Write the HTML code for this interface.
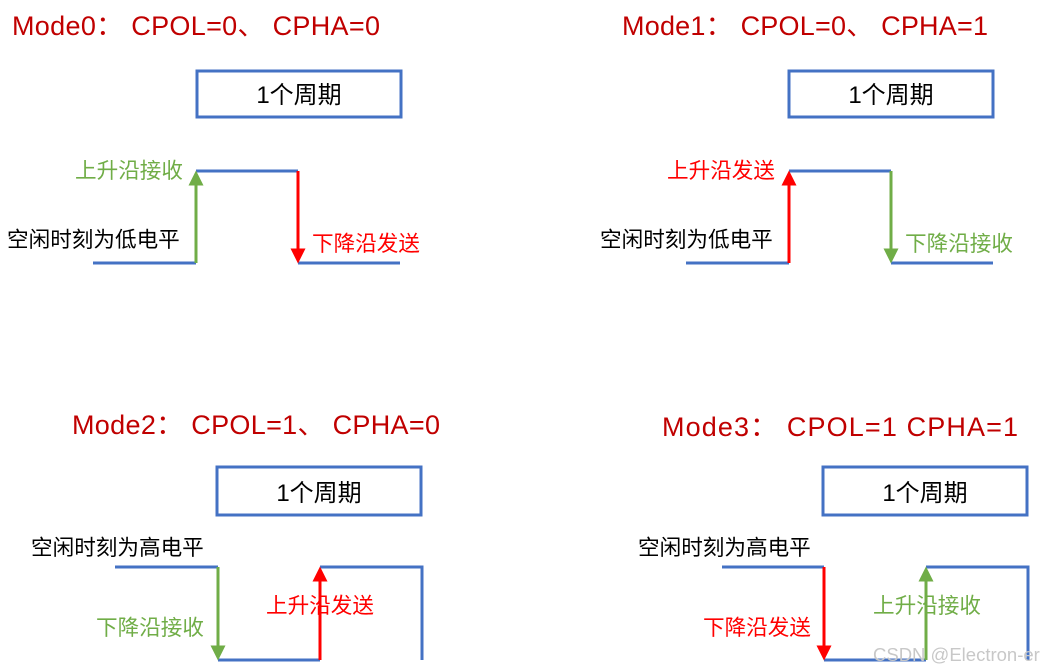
<!DOCTYPE html>
<html><head><meta charset="utf-8"><style>
html,body{margin:0;padding:0;background:#fff;}
svg{display:block;}
text{font-family:"Liberation Sans","Noto Sans CJK SC",sans-serif;}
.t{fill:#c00000;font-size:27px;}
.b{fill:#000;font-size:24px;}
.l{font-size:21.6px;}
.g{fill:#70ad47;}
.r{fill:#ff0000;}
.k{fill:#000;}
</style></head><body>
<svg width="1043" height="672" viewBox="0 0 1043 672" xmlns="http://www.w3.org/2000/svg">
<defs>
<marker id="ag" markerWidth="5" markerHeight="5" refX="2.5" refY="2.5" orient="auto"><path d="M0,0 L5,2.5 L0,5 z" fill="#70ad47"/></marker>
<marker id="ar" markerWidth="5" markerHeight="5" refX="2.5" refY="2.5" orient="auto"><path d="M0,0 L5,2.5 L0,5 z" fill="#ff0000"/></marker>
</defs>
<g fill="none" stroke="#4472c4" stroke-width="3">
<rect x="197" y="71" width="204" height="46"/>
<rect x="789" y="71" width="204" height="46"/>
<rect x="217" y="467" width="204" height="48"/>
<rect x="823" y="467" width="204" height="48"/>
<polyline points="93,263 196,263"/>
<polyline points="196,171 298,171"/>
<polyline points="298,263 400,263"/>
<polyline points="686,263 789,263"/>
<polyline points="789,171 891,171"/>
<polyline points="891,263 993,263"/>
<polyline points="115,567 218,567"/>
<polyline points="218,660 320,660"/>
<polyline points="320,567 422,567 422,660"/>
<polyline points="722,567 824,567"/>
<polyline points="824,660 926,660"/>
<polyline points="926,567 1028,567 1028,660"/>
</g>
<g stroke-width="3">
<line x1="196" y1="263" x2="196" y2="178" stroke="#70ad47" marker-end="url(#ag)"/>
<line x1="298" y1="171" x2="298" y2="256" stroke="#ff0000" marker-end="url(#ar)"/>
<line x1="789" y1="263" x2="789" y2="178" stroke="#ff0000" marker-end="url(#ar)"/>
<line x1="891" y1="171" x2="891" y2="256" stroke="#70ad47" marker-end="url(#ag)"/>
<line x1="218" y1="567" x2="218" y2="653" stroke="#70ad47" marker-end="url(#ag)"/>
<line x1="320" y1="660" x2="320" y2="574" stroke="#ff0000" marker-end="url(#ar)"/>
<line x1="824" y1="567" x2="824" y2="653" stroke="#ff0000" marker-end="url(#ar)"/>
<line x1="926" y1="660" x2="926" y2="574" stroke="#70ad47" marker-end="url(#ag)"/>
</g>
<text class="t" x="12" y="35" textLength="368" lengthAdjust="spacing">Mode0： CPOL=0、 CPHA=0</text>
<text class="t" x="622" y="35" textLength="366" lengthAdjust="spacing">Mode1： CPOL=0、 CPHA=1</text>
<text class="t" x="72" y="434" textLength="368" lengthAdjust="spacing">Mode2： CPOL=1、 CPHA=0</text>
<text class="t" x="662" y="436" textLength="356" lengthAdjust="spacing">Mode3： CPOL=1   CPHA=1</text>
<text class="b" x="299" y="103" text-anchor="middle">1个周期</text>
<text class="b" x="891" y="103" text-anchor="middle">1个周期</text>
<text class="b" x="319" y="501" text-anchor="middle">1个周期</text>
<text class="b" x="925" y="501" text-anchor="middle">1个周期</text>
<text class="l g" x="75" y="178">上升沿接收</text>
<text class="l k" x="7" y="247">空闲时刻为低电平</text>
<text class="l r" x="312" y="251">下降沿发送</text>
<text class="l r" x="667" y="178">上升沿发送</text>
<text class="l k" x="600" y="247">空闲时刻为低电平</text>
<text class="l g" x="905" y="251">下降沿接收</text>
<text class="l k" x="31" y="555">空闲时刻为高电平</text>
<text class="l g" x="96" y="635">下降沿接收</text>
<text class="l r" x="266" y="613">上升沿发送</text>
<text class="l k" x="638" y="555">空闲时刻为高电平</text>
<text class="l r" x="703" y="635">下降沿发送</text>
<text class="l g" x="873" y="613">上升沿接收</text>
<text x="873" y="661" fill="#c8c8c8" font-size="18.5">CSDN @Electron-er</text>
</svg>
</body></html>
